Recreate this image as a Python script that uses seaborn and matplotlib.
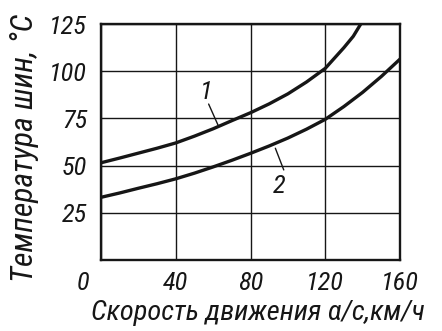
import matplotlib
matplotlib.use("Agg")
import matplotlib.pyplot as plt
import matplotlib.transforms as mtransforms
import pandas as pd
import seaborn as sns

# Tyre temperature vs. driving speed, two curves
speed_1 = [0, 10, 20, 30, 40, 50, 60, 70, 80, 90, 100, 110, 120, 125, 130, 135, 139]
temp_1 = [51.5, 54, 56.6, 59.2, 62, 65.6, 69.5, 73.8, 78, 82.7, 88, 94.3, 101.5,
          107, 112.5, 118.5, 125]
speed_2 = [0, 10, 20, 30, 40, 50, 60, 70, 80, 90, 100, 110, 120, 130, 140, 150, 155, 160]
temp_2 = [33.2, 35.5, 38, 40.4, 43, 46, 49.3, 52.8, 56.5, 60.4, 64.6, 69.3, 74.5,
          81.3, 88.8, 97.2, 101.8, 106.4]
curve_names = ["1", "2"]
x_ticks = [0, 40, 80, 120, 160]
y_ticks = [25, 50, 75, 100, 125]
x_title = "Скорость движения α/с,км/ч"
y_title = "Температура шин, °C"

df = pd.concat([
    pd.DataFrame({"speed": speed_1, "temp": temp_1, "curve": curve_names[0]}),
    pd.DataFrame({"speed": speed_2, "temp": temp_2, "curve": curve_names[1]}),
], ignore_index=True)

ink = "#161616"
sns.set_theme(style="white")
plt.rcParams["font.family"] = ["Roboto Condensed", "DejaVu Sans"]
plt.rcParams["font.style"] = "italic"
plt.rcParams["text.color"] = ink

fig = plt.figure(figsize=(4.42, 3.31), dpi=100)
ax = fig.add_axes([101 / 442, 71 / 331, 299 / 442, 236 / 331])

sns.lineplot(data=df, x="speed", y="temp", hue="curve",
             palette={n: ink for n in curve_names}, legend=False,
             sort=False, linewidth=2.4, ax=ax, zorder=3)
for ln in ax.get_lines():
    ln.set_solid_joinstyle("round")

ax.set_xlim(0, 160)
ax.set_ylim(0, 125)
ax.set_xticks(x_ticks)
ax.set_yticks(y_ticks)
ax.set_xticklabels([str(v) for v in x_ticks])
ax.set_yticklabels([str(v) for v in y_ticks])
ax.grid(True, color=ink, linewidth=1.0)
ax.set_axisbelow(True)
for sp in ax.spines.values():
    sp.set_visible(True)
    sp.set_color(ink)
    sp.set_linewidth(1.7)

ax.tick_params(axis="both", length=0, labelsize=19, labelcolor=ink)
ax.tick_params(axis="x", pad=8)
ax.tick_params(axis="y", pad=10)

# the origin label sits left of the corner
zero = ax.get_xticklabels()[0]
zero.set_transform(zero.get_transform() +
                   mtransforms.ScaledTranslation(-0.18, 0, fig.dpi_scale_trans))

ax.set_xlabel(x_title, fontsize=20.5, color=ink)
ax.set_ylabel(y_title, fontsize=22.8, color=ink)
ax.xaxis.set_label_coords(0.525, -0.17)
ax.yaxis.set_label_coords(-0.207, 0.475)

# curve numbers with leader lines
ax.text(56.5, 89, curve_names[0], fontsize=19, ha="center", va="center", color=ink)
ax.plot([57.6, 62.6], [82.6, 71.5], color=ink, linewidth=1.0)
ax.text(95.5, 39.2, curve_names[1], fontsize=19, ha="center", va="center", color=ink)
ax.plot([93.3, 97.8], [59.2, 47.7], color=ink, linewidth=1.0)

fig.savefig("out.png", dpi=100, facecolor="white")
